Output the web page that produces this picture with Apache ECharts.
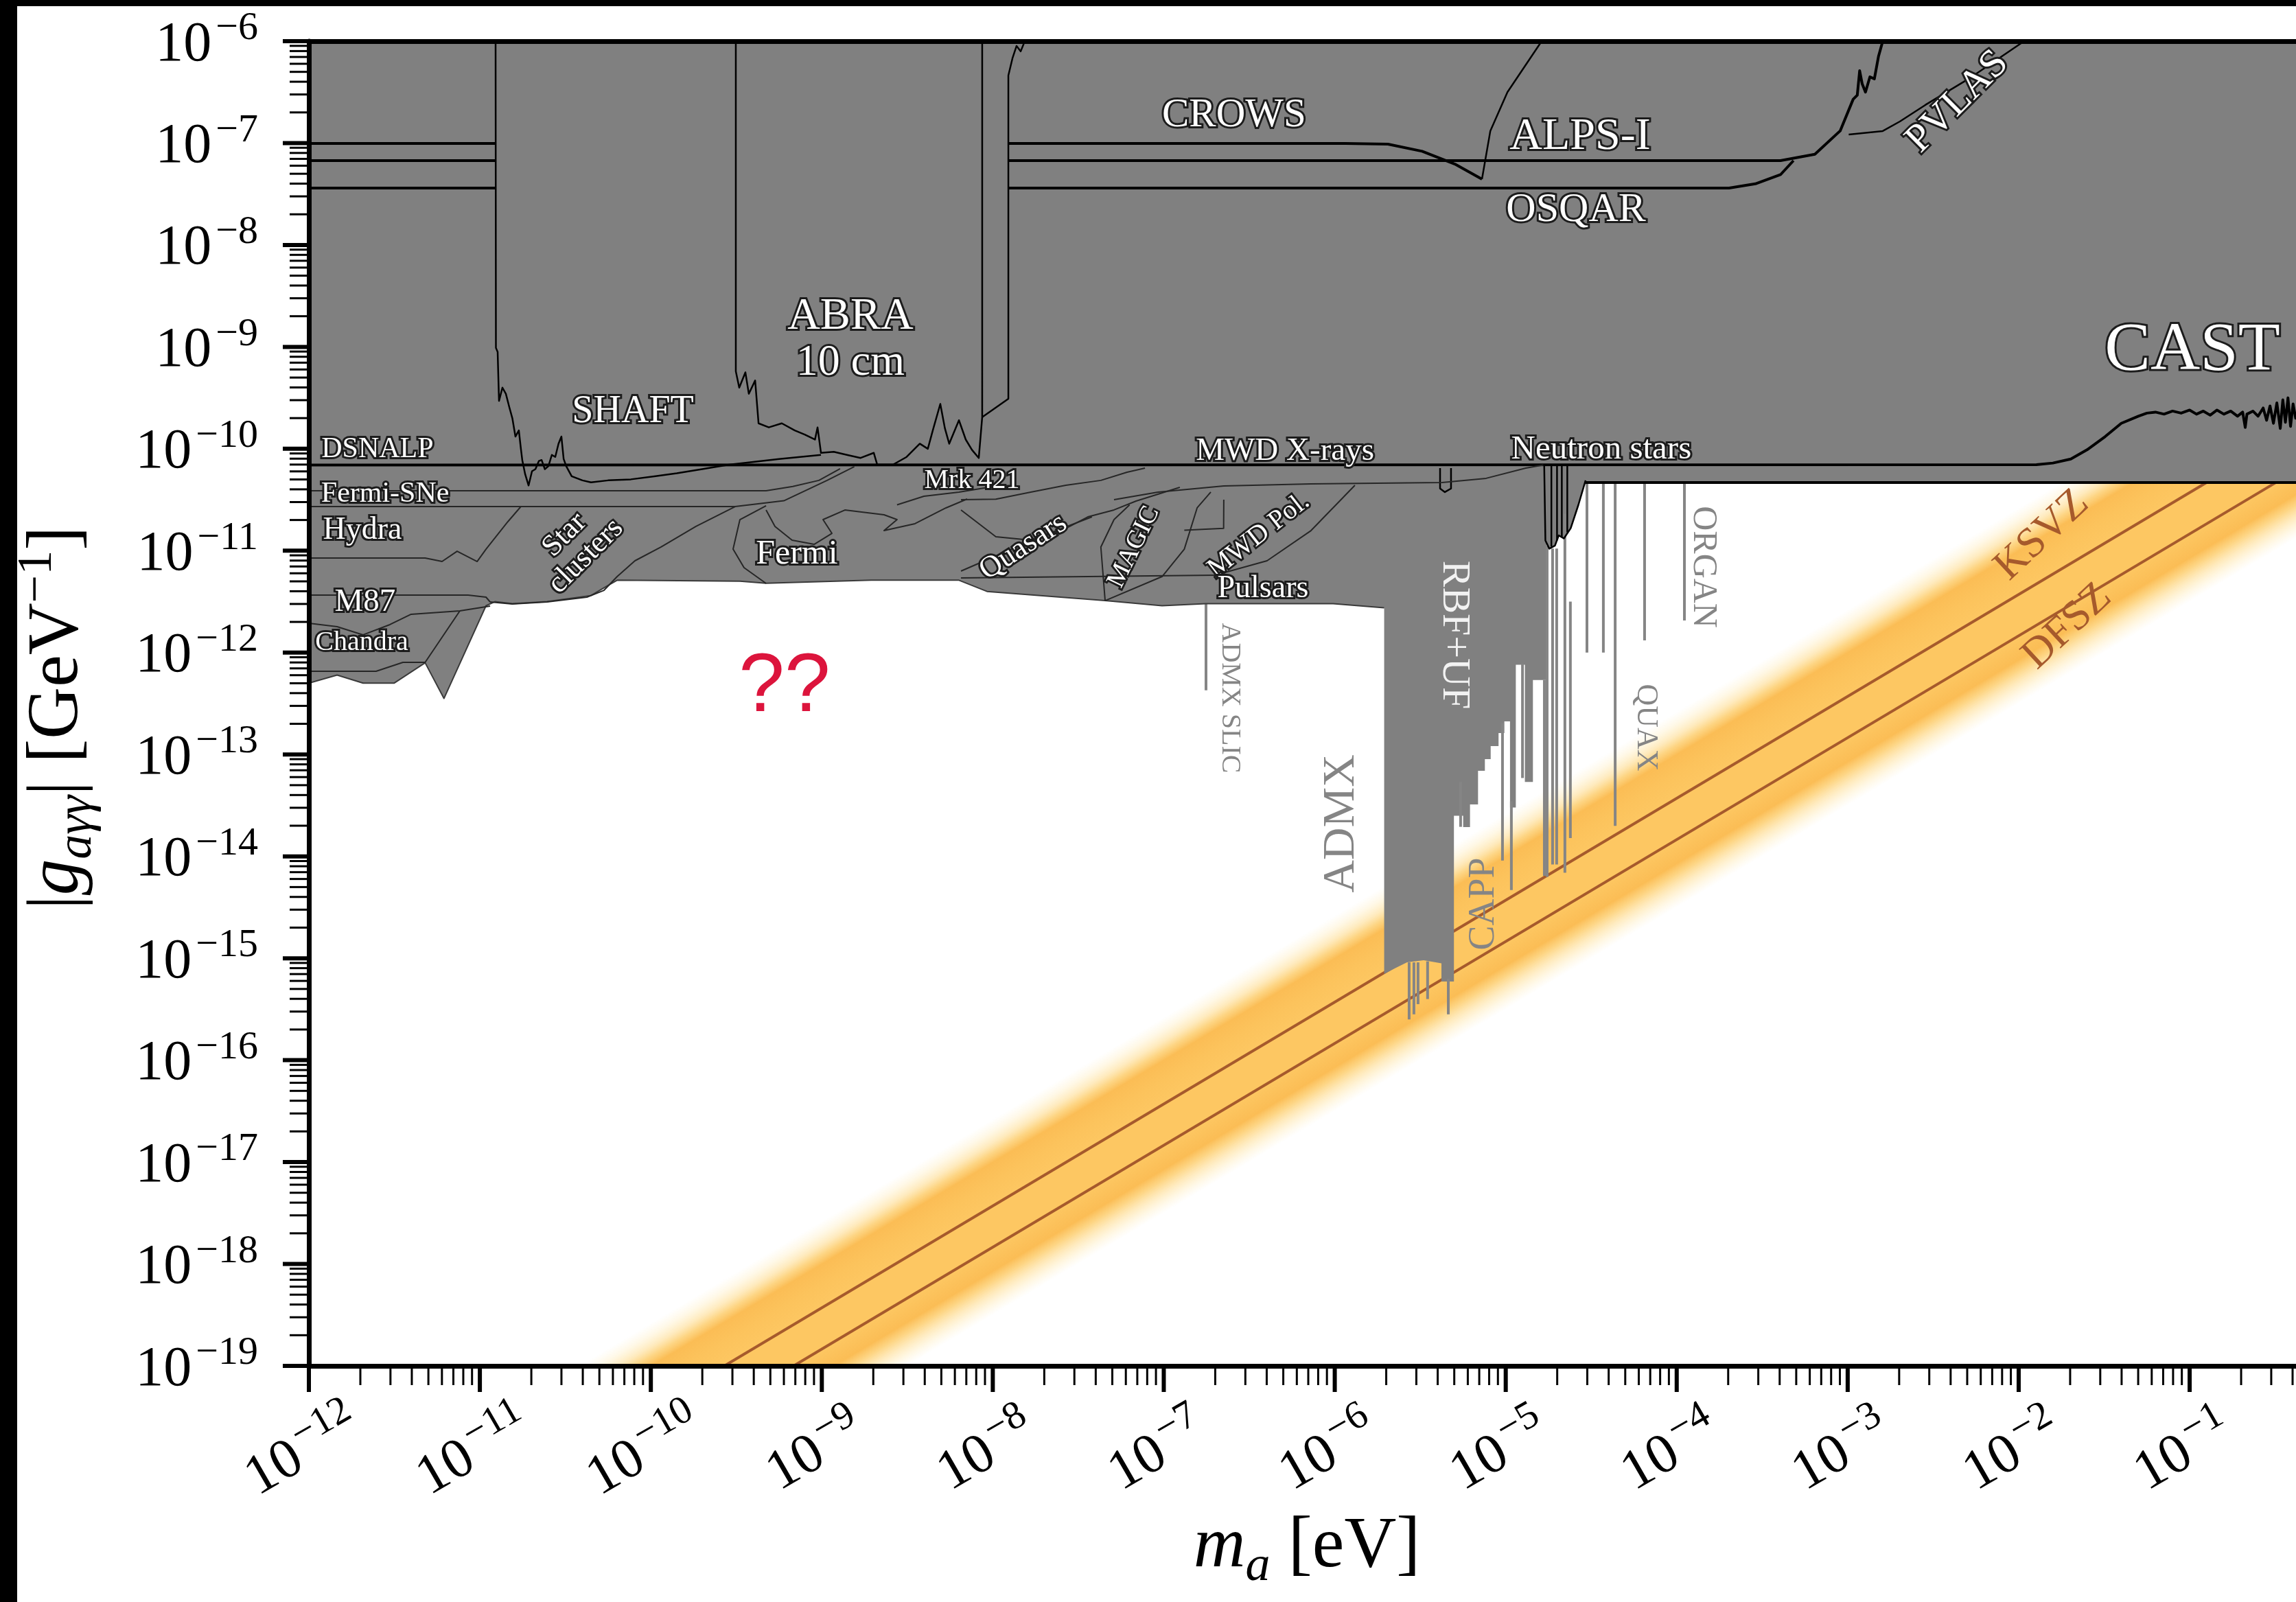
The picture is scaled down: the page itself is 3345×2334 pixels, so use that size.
<!DOCTYPE html>
<html><head><meta charset="utf-8">
<script src="https://cdn.jsdelivr.net/npm/echarts@6/dist/echarts.min.js"></script>
<style>
html,body{margin:0;padding:0;background:#000;width:3345px;height:2334px;overflow:hidden}
#chart{position:absolute;left:25px;top:9px;width:3320px;height:2325px;background:#fff}
</style></head><body><div id="chart"></div>
<script>
// ---------- DATA (log10 m_a [eV], log10 g [GeV^-1]) ----------
const xMajorExp = [-12,-11,-10,-9,-8,-7,-6,-5,-4,-3,-2,-1,0];
const yMajorExp = [-19,-18,-17,-16,-15,-14,-13,-12,-11,-10,-9,-8,-7,-6];
const minorMult = [2,3,4,5,6,7,8,9];
const xTickLabels = ['−12','−11','−10','−9','−8','−7','−6','−5','−4','−3','−2','−1'];
const yTickLabels = ['−19','−18','−17','−16','−15','−14','−13','−12','−11','−10','−9','−8','−7','−6'];

const grayMain = [[-12,-6],[0,-6],[0,-10.331],[-4.533,-10.331],[-4.533,-10.31],[-4.575,-10.55],[-4.62,-10.78],[-4.66,-10.88],[-4.69,-10.85],[-4.712,-10.95],[-4.745,-10.98],[-4.761,-10.92],[-4.761,-12.27],[-4.841,-12.27],[-4.841,-13.27],[-4.888,-13.27],[-4.888,-12.12],[-4.941,-12.12],[-4.941,-13.52],[-4.975,-13.52],[-4.975,-12.675],[-5.008,-12.675],[-5.008,-12.79],[-5.042,-12.79],[-5.042,-12.918],[-5.088,-12.918],[-5.088,-13.046],[-5.122,-13.046],[-5.122,-13.16],[-5.162,-13.16],[-5.162,-13.49],[-5.209,-13.49],[-5.209,-13.712],[-5.249,-13.712],[-5.249,-13.601],[-5.303,-13.601],[-5.303,-15.228],[-5.376,-15.228],[-5.376,-15.05],[-5.48,-15.02],[-5.577,-15.04],[-5.65,-15.10],[-5.711,-15.154],[-5.711,-11.56],[-6.01,-11.52],[-6.753,-11.52],[-7.01,-11.54],[-7.343,-11.49],[-8.034,-11.40],[-8.198,-11.29],[-8.712,-11.29],[-9.326,-11.32],[-9.479,-11.30],[-10.197,-11.29],[-10.25,-11.34],[-10.35,-11.44],[-10.607,-11.50],[-10.81,-11.52],[-10.912,-11.50],[-10.964,-11.54],[-11.21,-12.45],[-11.32,-12.10],[-11.502,-12.30],[-11.683,-12.30],[-11.835,-12.22],[-12,-12.30]];

const astroBottom = [[-5.711,-11.56],[-6.01,-11.52],[-6.753,-11.52],[-7.01,-11.54],[-7.343,-11.49],[-8.034,-11.40],[-8.198,-11.29],[-8.712,-11.29],[-9.326,-11.32],[-9.479,-11.30],[-10.197,-11.29],[-10.25,-11.34],[-10.35,-11.44],[-10.607,-11.50],[-10.81,-11.52],[-10.912,-11.50],[-10.964,-11.54],[-11.21,-12.45],[-11.32,-12.10],[-11.502,-12.30],[-11.683,-12.30],[-11.835,-12.22],[-12,-12.30]];

const castLimit = [[-12,-10.16],[-1.896,-10.156],[-1.80,-10.14],[-1.695,-10.10],[-1.60,-10.01],[-1.494,-9.88],[-1.40,-9.75],[-1.30,-9.68],[-1.25,-9.65],[-1.20,-9.64],[-1.15,-9.66],[-1.10,-9.63],[-1.05,-9.65],[-1.0,-9.62],[-0.96,-9.66],[-0.92,-9.63],[-0.88,-9.67],[-0.84,-9.62],[-0.80,-9.66],[-0.76,-9.63],[-0.72,-9.68],[-0.69,-9.64],[-0.675,-9.79],[-0.665,-9.66],[-0.63,-9.63],[-0.60,-9.68],[-0.57,-9.60],[-0.55,-9.72],[-0.53,-9.58],[-0.51,-9.75],[-0.49,-9.55],[-0.47,-9.80],[-0.455,-9.52],[-0.44,-9.74],[-0.425,-9.50],[-0.41,-9.78],[-0.395,-9.56],[-0.38,-9.70],[-0.36,-9.6]];
const bandEdgeLimit = [[-4.533,-10.331],[0,-10.331]];
const crowsLeft = [[-12,-7.004],[-10.908,-7.004]];
const alpsLeft = [[-12,-7.172],[-10.908,-7.172]];
const osqarLeft = [[-12,-7.441],[-10.908,-7.441]];
const crowsRight = [[-7.913,-7.004],[-5.938,-7.004],[-5.689,-7.01],[-5.489,-7.08],[-5.292,-7.21],[-5.139,-7.354]];
const alpsRight = [[-7.913,-7.172],[-3.393,-7.172],[-3.192,-7.11],[-3.044,-6.88],[-2.968,-6.57],[-2.944,-6.53],[-2.93,-6.29],[-2.915,-6.42],[-2.896,-6.50],[-2.87,-6.35],[-2.844,-6.37],[-2.82,-6.15],[-2.795,-6.0]];
const alpsRise = [[-5.139,-7.354],[-5.09,-6.88],[-4.99,-6.50],[-4.79,-6.0]];
const osqarRight = [[-7.913,-7.441],[-3.694,-7.441],[-3.54,-7.40],[-3.393,-7.31],[-3.317,-7.172]];
const pvlas = [[-2.994,-6.916],[-2.795,-6.882],[-2.695,-6.788],[-2.546,-6.626],[-2.293,-6.37],[-1.968,-6.0]];
const shaft = [[-10.908,-6],[-10.906,-9.01],[-10.896,-9.05],[-10.888,-9.53],[-10.868,-9.40],[-10.848,-9.46],[-10.828,-9.59],[-10.81,-9.70],[-10.792,-9.88],[-10.772,-9.82],[-10.76,-10.0],[-10.752,-10.11],[-10.735,-10.25],[-10.715,-10.36],[-10.695,-10.22],[-10.675,-10.20],[-10.655,-10.12],[-10.639,-10.11],[-10.62,-10.20],[-10.599,-10.17],[-10.579,-10.06],[-10.559,-10.08],[-10.54,-9.95],[-10.523,-9.88],[-10.51,-10.10],[-10.495,-10.17],[-10.463,-10.27],[-10.40,-10.31],[-10.35,-10.33],[-10.25,-10.31],[-10.117,-10.30],[-9.98,-10.27],[-9.848,-10.24],[-9.70,-10.20],[-9.543,-10.156],[-9.25,-10.10],[-9.005,-10.06]];
const abra = [[-9.503,-6],[-9.503,-9.24],[-9.483,-9.40],[-9.447,-9.25],[-9.427,-9.46],[-9.39,-9.33],[-9.37,-9.75],[-9.31,-9.79],[-9.234,-9.75],[-9.158,-9.82],[-9.10,-9.86],[-9.04,-9.91],[-9.025,-9.79],[-9.005,-10.04],[-8.93,-10.03],[-8.853,-10.06],[-8.773,-10.09],[-8.696,-10.04],[-8.676,-10.156],[-8.584,-10.156],[-8.504,-10.08],[-8.427,-9.95],[-8.38,-10.0],[-8.351,-9.82],[-8.307,-9.56],[-8.28,-9.80],[-8.255,-9.95],[-8.198,-9.72],[-8.158,-9.91],[-8.122,-10.01],[-8.082,-10.09],[-8.062,-9.69],[-8.062,-6]];
const narrowCol = [[-8.062,-9.69],[-7.909,-9.51],[-7.909,-6.337],[-7.885,-6.168],[-7.861,-6.047],[-7.837,-6.10],[-7.813,-6.0]];
const uBox = [[-5.384,-10.19],[-5.384,-10.39],[-5.356,-10.425],[-5.32,-10.39],[-5.32,-10.19]];
const nsDips = [[-4.775,-10.16],[-4.768,-10.90],[-4.745,-10.98],[-4.712,-10.95],[-4.69,-10.85],[-4.66,-10.88],[-4.62,-10.78],[-4.575,-10.55],[-4.533,-10.31]];
const nsDip1 = [[-4.733,-10.16],[-4.733,-10.96]];
const nsDip2 = [[-4.70,-10.16],[-4.70,-10.90]];
const nsDip3 = [[-4.672,-10.16],[-4.672,-10.87]];
const nsDip4 = [[-4.64,-10.16],[-4.64,-10.82]];

const fermiSNeUpper = [[-12,-10.412],[-9.326,-10.412],[-9.17,-10.37],[-9.017,-10.31],[-8.893,-10.196]];
const fermiSNeLower = [[-12,-10.567],[-9.507,-10.567],[-9.222,-10.51],[-8.969,-10.31],[-8.81,-10.176]];
const hydra = [[-12,-11.072],[-11.32,-11.072],[-11.221,-11.106],[-11.133,-11.005],[-11.016,-11.106],[-10.964,-10.985],[-10.836,-10.715],[-10.76,-10.567]];
const starClusters = [[-9.507,-10.567],[-9.736,-10.762],[-9.94,-10.964],[-10.093,-11.099],[-10.197,-11.254],[-10.274,-11.389],[-10.374,-11.456],[-10.607,-11.503],[-10.81,-11.523],[-10.94,-11.503]];
const m87 = [[-12,-11.436],[-11.069,-11.436],[-10.964,-11.456],[-10.94,-11.503]];
const chandraUpper = [[-12,-11.712],[-11.835,-11.746],[-11.683,-11.826],[-11.526,-11.725],[-11.402,-11.624],[-11.117,-11.591],[-10.94,-11.543]];
const chandraLower = [[-12,-12.183],[-11.607,-12.183],[-11.45,-12.096],[-11.32,-12.096],[-11.117,-11.591]];
const fermiOuter = [[-9.326,-10.56],[-9.479,-10.695],[-9.519,-10.985],[-9.455,-11.166],[-9.326,-11.321]];
const fermiInner = [[-9.326,-10.60],[-9.274,-10.762],[-9.174,-10.897],[-9.045,-10.938],[-8.941,-10.83],[-8.993,-10.695],[-8.865,-10.601],[-8.636,-10.648],[-8.56,-10.695],[-8.636,-10.803],[-8.455,-10.735],[-8.274,-10.58],[-8.15,-10.493]];
const mrk421 = [[-8.56,-10.55],[-8.403,-10.466],[-8.198,-10.425],[-8.026,-10.378],[-7.90,-10.36]];
const quasarsA = [[-8.186,-10.50],[-7.982,-10.494],[-7.778,-10.425],[-7.573,-10.358],[-7.368,-10.31],[-7.215,-10.23],[-7.11,-10.19]];
const quasarsB = [[-8.186,-10.60],[-7.982,-10.863],[-7.778,-10.897],[-7.573,-10.782],[-7.444,-10.668],[-7.291,-10.60],[-7.162,-10.513],[-7.034,-10.446],[-6.906,-10.378]];
const quasarsC = [[-8.186,-11.20],[-7.98,-11.05],[-7.70,-10.85],[-7.42,-10.668]];
const pulsarsTop = [[-8.186,-11.268],[-6.70,-11.24]];
const magicLeft = [[-7.343,-11.49],[-7.368,-10.964],[-7.291,-10.695],[-7.20,-10.55]];
const magicRight = [[-7.343,-11.49],[-7.01,-11.254],[-6.88,-10.985],[-6.805,-10.58],[-6.725,-10.425]];
const mwdPol = [[-6.70,-11.24],[-6.396,-11.099],[-6.139,-10.803],[-5.882,-10.358]];
const mwdPolBox = [[-6.88,-10.80],[-6.65,-10.78],[-6.649,-10.50]];
const mwdXrays = [[-7.291,-10.50],[-7.034,-10.425],[-6.649,-10.365],[-6.139,-10.345],[-5.372,-10.331],[-5.115,-10.29],[-4.883,-10.19],[-4.78,-10.16]];

// narrow haloscope exclusions: [log m, log g top, log g bottom]
const haloLines = [[-6.753,-11.52,-12.37],[-5.264,-13.27,-13.71],[-5.019,-12.69,-14.04],[-4.967,-13.46,-14.33],[-4.902,-12.11,-13.23],[-4.774,-12.27,-14.19],[-4.758,-10.95,-14.20],[-4.726,-10.98,-14.08],[-4.702,-10.98,-14.08],[-4.654,-10.64,-14.16],[-4.622,-11.50,-13.82],[-4.525,-10.331,-12.0],[-4.429,-10.331,-12.0],[-4.36,-10.331,-13.70],[-4.188,-10.331,-11.88],[-3.955,-10.331,-11.685],[-5.565,-15.04,-15.60],[-5.537,-15.04,-15.55],[-5.513,-15.04,-15.45],[-5.457,-15.03,-15.40],[-5.336,-15.2,-15.55]];

// QCD axion band and model lines
const bandUpperEdge = [[-10.42,-19],[-1.62,-10.2]];
const bandLowerEdge = [[-8.5,-19],[0.3,-10.2]];
const ksvz = [[-9.57,-19],[-0.77,-10.2]];
const dfsz = [[-9.165,-19],[-0.365,-10.2]];

// annotations: text, log m, log g, rotation(deg), font px, kind
const labels = [
 ['CROWS',-6.589,-6.731,0,59,'w'],['ALPS-I',-4.565,-6.943,0,66,'w'],['OSQAR',-4.589,-7.657,0,60,'w'],
 ['PVLAS',-2.357,-6.596,45,58,'w'],['SHAFT',-10.105,-9.637,0,56,'w'],['ABRA',-8.833,-8.708,0,66,'w'],
 ['10 cm',-8.833,-9.159,0,64,'w'],['CAST',-0.984,-9.045,0,100,'w'],['DSNALP',-11.599,-10.008,0,42,'w'],
 ['Fermi-SNe',-11.554,-10.446,0,42,'w'],['Hydra',-11.687,-10.803,0,46,'w'],['M87',-11.671,-11.51,0,47,'w'],
 ['Chandra',-11.691,-11.907,0,40,'w'],['Star\nclusters',-10.442,-10.951,45,44,'w'],['Fermi',-9.146,-11.038,0,50,'w'],
 ['Mrk 421',-8.122,-10.311,0,40,'w'],['Quasars',-7.821,-10.964,33,44,'w'],['MAGIC',-7.175,-10.964,64,38,'w'],
 ['MWD Pol.',-6.444,-10.85,38,40,'w'],['Pulsars',-6.42,-11.375,0,46,'w'],['MWD X-rays',-6.291,-10.028,0,47,'w'],
 ['Neutron stars',-4.441,-10.008,0,49,'w'],['RBF+UF',-5.304,-11.826,-90,58,'p'],['ADMX',-5.958,-13.679,90,66,'g'],
 ['ADMX SLIC',-6.613,-12.446,-90,40,'g'],['CAPP',-5.127,-14.467,90,54,'g'],['QUAX',-4.18,-12.736,-90,44,'g'],
 ['ORGAN',-3.847,-11.16,-90,50,'g'],['KSVZ',-1.863,-10.85,43,62,'o'],['DFSZ',-1.715,-11.746,43,62,'o'],
 ['??',-9.218,-12.352,0,120,'r']
];

// ---------- RENDERING ----------
const SERIF = "'Liberation Serif','DejaVu Serif',serif";
const P = v => Math.pow(10, v);
const toVal = p => [P(p[0]), P(p[1])];
const XMIN = 1e-12, YMIN = 1e-19;
const XMAX = Math.pow(10, -0.378);   // right edge of the (cropped) plot

function polygonSeries(pts, style, z){
  const data = pts.map(toVal);
  return {type:'custom', coordinateSystem:'cartesian2d', clip:true, silent:true, z, data,
    renderItem(params, api){
      if (params.dataIndex !== 0) return null;
      return {type:'polygon', shape:{points:data.map(d => api.coord(d))}, style};
    }};
}
function linesSeries(lines, style, z){
  const vals = lines.map(l => l.map(toVal));
  const data = vals.map(l => l[0]);
  return {type:'custom', coordinateSystem:'cartesian2d', clip:true, silent:true, z, data,
    renderItem(params, api){
      const l = vals[params.dataIndex];
      return {type:'polyline', shape:{points:l.map(d => api.coord(d))},
        style:Object.assign({fill:null, lineJoin:'round'}, style)};
    }};
}

const bandStops = [
 {offset:0, color:'rgba(255,228,160,0)'},{offset:0.06, color:'rgba(255,224,145,0.22)'},
 {offset:0.12, color:'rgba(254,214,125,0.5)'},{offset:0.17, color:'rgba(253,204,105,0.82)'},
 {offset:0.22, color:'#fbbd55'},{offset:0.32, color:'#fcc35c'},{offset:0.443, color:'#fdc762'},
 {offset:0.654, color:'#fdc762'},{offset:0.776, color:'#fbbd55'},{offset:0.83, color:'rgba(253,204,105,0.82)'},
 {offset:0.89, color:'rgba(254,214,125,0.5)'},{offset:0.95, color:'rgba(255,224,145,0.22)'},
 {offset:1, color:'rgba(255,228,160,0)'}];
const bandPoly = [bandUpperEdge[0], bandUpperEdge[1], bandLowerEdge[1], bandLowerEdge[0]].map(toVal);
const bandSeries = {type:'custom', coordinateSystem:'cartesian2d', clip:true, silent:true, z:1, data:bandPoly,
  renderItem(params, api){
    if (params.dataIndex !== 0) return null;
    const A = api.coord(toVal(bandUpperEdge[0])), B = api.coord(toVal(bandUpperEdge[1])), R = api.coord(toVal(bandLowerEdge[0]));
    let dx = B[0]-A[0], dy = B[1]-A[1]; const L = Math.hypot(dx, dy); dx /= L; dy /= L;
    const nx = -dy, ny = dx; const w = (R[0]-A[0])*nx + (R[1]-A[1])*ny;
    const grad = new echarts.graphic.LinearGradient(A[0], A[1], A[0]+nx*w, A[1]+ny*w, bandStops, true);
    return {type:'polygon', shape:{points:bandPoly.map(d => api.coord(d))}, style:{fill:grad}};
  }};

function modelLine(pts){
  return {type:'line', data:pts.map(toVal), showSymbol:false, symbol:'none', silent:true, z:2,
    lineStyle:{color:'#a65a2c', width:4}, animation:false};
}

const labelStyles = {
  w:{fill:'#ffffff', stroke:'#1c1c1c', lineWidth:6, fontFamily:SERIF},
  p:{fill:'#f2f2f2', fontFamily:SERIF},
  g:{fill:'#858585', fontFamily:SERIF},
  o:{fill:'#a65a2c', fontFamily:SERIF},
  r:{fill:'#dc143c', fontFamily:"'Liberation Sans','DejaVu Sans',sans-serif"}
};
const labelSeries = {type:'custom', coordinateSystem:'cartesian2d', clip:false, silent:true, z:8,
  data: labels.map(l => toVal([l[1], l[2]])),
  renderItem(params, api){
    const l = labels[params.dataIndex];
    const p = api.coord(toVal([l[1], l[2]]));
    return {type:'text', x:p[0], y:p[1], rotation:l[3]*Math.PI/180,
      style:Object.assign({text:l[0], fontSize:l[4], align:'center', verticalAlign:'middle', strokeFirst:true, lineHeight:l[4]*1.0}, labelStyles[l[5]])};
  }};

// ticks
const xMinor = [], yMinor = [];
xMajorExp.slice(0,-1).forEach(e => minorMult.forEach(k => xMinor.push(k*P(e))));
yMajorExp.slice(0,-1).forEach(e => minorMult.forEach(k => yMinor.push(k*P(e))));
function xTickSeries(vals, len, width){
  return {type:'custom', coordinateSystem:'cartesian2d', clip:false, silent:true, z:9,
    data: vals.map(v => [v, YMIN]),
    renderItem(params, api){
      const p = api.coord([vals[params.dataIndex], YMIN]);
      return {type:'line', shape:{x1:p[0], y1:p[1], x2:p[0], y2:p[1]+len}, style:{stroke:'#000', lineWidth:width}};
    }};
}
function yTickSeries(vals, len, width){
  return {type:'custom', coordinateSystem:'cartesian2d', clip:false, silent:true, z:9,
    data: vals.map(v => [XMIN, v]),
    renderItem(params, api){
      const p = api.coord([XMIN, vals[params.dataIndex]]);
      return {type:'line', shape:{x1:p[0], y1:p[1], x2:p[0]-len, y2:p[1]}, style:{stroke:'#000', lineWidth:width}};
    }};
}
const tickRich = {
  b:{fontFamily:SERIF, fontSize:82, lineHeight:94, verticalAlign:'bottom', fill:'#000'},
  s:{fontFamily:SERIF, fontSize:58, lineHeight:58, verticalAlign:'top', fill:'#000', padding:[0,0,0,6]}
};
const xLabelSeries = {type:'custom', coordinateSystem:'cartesian2d', clip:false, silent:true, z:9,
  data: xTickLabels.map((t,i) => [P(xMajorExp[i]), YMIN]),
  renderItem(params, api){
    const p = api.coord([P(xMajorExp[params.dataIndex]), YMIN]);
    return {type:'text', x:p[0]-11, y:p[1]+121, rotation:30*Math.PI/180,
      style:{text:'{b|10}{s|'+xTickLabels[params.dataIndex]+'}', rich:tickRich, align:'center', verticalAlign:'middle'}};
  }};
const yLabelSeries = {type:'custom', coordinateSystem:'cartesian2d', clip:false, silent:true, z:9,
  data: yTickLabels.map((t,i) => [XMIN, P(yMajorExp[i])]),
  renderItem(params, api){
    const p = api.coord([XMIN, P(yMajorExp[params.dataIndex])]);
    return {type:'text', x:p[0]-74, y:p[1],
      style:{text:'{b|10}{s|'+yTickLabels[params.dataIndex]+'}', rich:tickRich, align:'right', verticalAlign:'middle'}};
  }};

const haloAsLines = haloLines.map(h => [[h[0], h[1]], [h[0], h[2]]]);

const chart = echarts.init(document.getElementById('chart'), null, {renderer:'canvas', width:3320, height:2325});
const titleRich = {
  n:{fontFamily:SERIF, fontSize:105, lineHeight:130, verticalAlign:'middle', fill:'#000'},
  i:{fontFamily:SERIF, fontSize:105, fontStyle:'italic', lineHeight:130, verticalAlign:'middle', fill:'#000'},
  sub:{fontFamily:SERIF, fontSize:72, fontStyle:'italic', lineHeight:80, verticalAlign:'bottom', fill:'#000'},
  sup:{fontFamily:SERIF, fontSize:72, lineHeight:80, verticalAlign:'top', fill:'#000'}
};
chart.setOption({
  animation:false,
  grid:{left:425, top:51, right:0, height:1930},
  xAxis:[
    {type:'log', logBase:10, min:XMIN, max:XMAX, position:'bottom', z:10,
     axisLine:{show:true, lineStyle:{color:'#000', width:7}}, axisTick:{show:false}, axisLabel:{show:false}, splitLine:{show:false}},
    {type:'log', logBase:10, min:XMIN, max:XMAX, position:'top', z:10,
     axisLine:{show:true, lineStyle:{color:'#000', width:7}}, axisTick:{show:false}, axisLabel:{show:false}, splitLine:{show:false}}
  ],
  yAxis:{type:'log', logBase:10, min:YMIN, max:1e-6, z:10,
     axisLine:{show:true, lineStyle:{color:'#000', width:7}}, axisTick:{show:false}, axisLabel:{show:false}, splitLine:{show:false}},
  graphic:[
    {type:'text', x:59, y:1037, rotation:Math.PI/2, z:20,
     style:{text:'{n||}{i|g}{sub|aγγ}{n|| [GeV}{sup|−1}{n|]}', rich:titleRich, align:'center', verticalAlign:'middle'}},
    {type:'text', x:1879, y:2245, z:20,
     style:{text:'{i|m}{sub|a}{n| [eV]}', rich:titleRich, align:'center', verticalAlign:'middle'}}
  ],
  series:[
    bandSeries,
    modelLine(ksvz), modelLine(dfsz),
    polygonSeries(grayMain, {fill:'#808080'}, 3),
    linesSeries(haloAsLines, {stroke:'#858585', lineWidth:4}, 4),
    linesSeries([astroBottom], {stroke:'#3a3a3a', lineWidth:2}, 5),
    linesSeries([castLimit, bandEdgeLimit, crowsLeft, alpsLeft, osqarLeft, crowsRight, alpsRight, osqarRight], {stroke:'#000', lineWidth:4}, 6),
    linesSeries([alpsRise, pvlas, shaft, abra, narrowCol, uBox, nsDips, nsDip1, nsDip2, nsDip3, nsDip4], {stroke:'#000', lineWidth:2.5}, 6),
    linesSeries([fermiSNeUpper, fermiSNeLower, hydra, starClusters, m87, chandraUpper, chandraLower, fermiOuter, fermiInner, mrk421, quasarsA, quasarsB, quasarsC, pulsarsTop, magicLeft, magicRight, mwdPol, mwdPolBox, mwdXrays], {stroke:'#262626', lineWidth:2}, 6),
    labelSeries,
    xTickSeries(xMajorExp.map(P), 38, 6), xTickSeries(xMinor, 28, 3),
    yTickSeries(yMajorExp.map(P), 38, 6), yTickSeries(yMinor, 28, 3),
    xLabelSeries, yLabelSeries
  ]
});
</script></body></html>
